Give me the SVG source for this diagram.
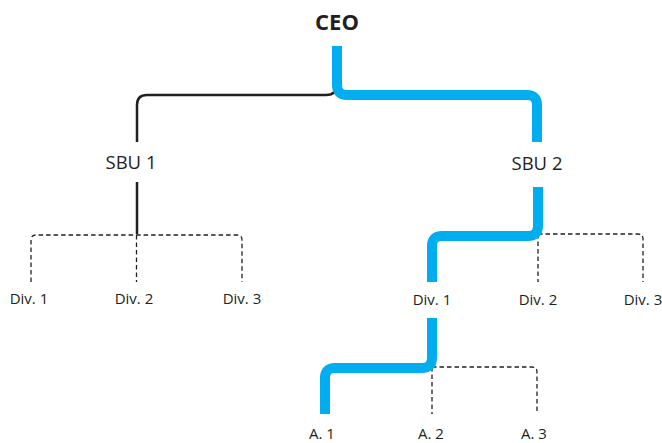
<svg xmlns="http://www.w3.org/2000/svg" width="662" height="443" viewBox="0 0 662 443">
<style>
text{font-family:"Open Sans","Liberation Sans",sans-serif;fill:#231f20;text-anchor:middle}
.ceo{font-family:"Open Sans","Liberation Sans",sans-serif;font-weight:700;font-size:22px}
.sbu{font-size:18.5px}
.div{font-size:15px}
.solid{fill:none;stroke:#231f20;stroke-width:2.5}
.blue{fill:none;stroke:#00aeef;stroke-width:10}
.dash{fill:none;stroke:#231f20;stroke-width:1.3;stroke-dasharray:4.5 3}
</style>
<rect width="662" height="443" fill="#fff"/>
<g id="connectors">
<path class="solid" d="M337,84 Q337,95 326,95 H147 Q137,95 137,105 V142"/>
<path class="solid" d="M137,182 V234"/>
<path class="dash" d="M31,282 V240 Q31,235 36,235 H237 Q242,235 242,240 V282 M136.5,235 V282"/>
<path class="dash" d="M538,234 H638 Q643,234 643,239 V282 M538,234 V282"/>
<path class="dash" d="M432,367 H532 Q537,367 537,372 V414 M432,367 V414"/>
<path class="blue" d="M337,46 V85 Q337,95 347,95 H527 Q537,95 537,105 V142"/>
<path class="blue" d="M538,187 V226 Q538,236 528,236 H442 Q432,236 432,246 V282"/>
<path class="blue" d="M432,318 V358 Q432,368 422,368 H335 Q325,368 325,378 V414"/>
</g>
<g id="ceo"><text class="ceo" x="337" y="30">CEO</text></g>
<g id="sbu1"><text class="sbu" x="131" y="169">SBU 1</text></g>
<g id="sbu2"><text class="sbu" x="537" y="170">SBU 2</text></g>
<g id="sbu1-div1"><text class="div" x="29" y="304">Div. 1</text></g>
<g id="sbu1-div2"><text class="div" x="134" y="304">Div. 2</text></g>
<g id="sbu1-div3"><text class="div" x="242" y="304">Div. 3</text></g>
<g id="sbu2-div1"><text class="div" x="432" y="305">Div. 1</text></g>
<g id="sbu2-div2"><text class="div" x="538" y="305">Div. 2</text></g>
<g id="sbu2-div3"><text class="div" x="643" y="305">Div. 3</text></g>
<g id="a1"><text class="div" x="322" y="439">A. 1</text></g>
<g id="a2"><text class="div" x="431" y="439">A. 2</text></g>
<g id="a3"><text class="div" x="534" y="439">A. 3</text></g>
</svg>
